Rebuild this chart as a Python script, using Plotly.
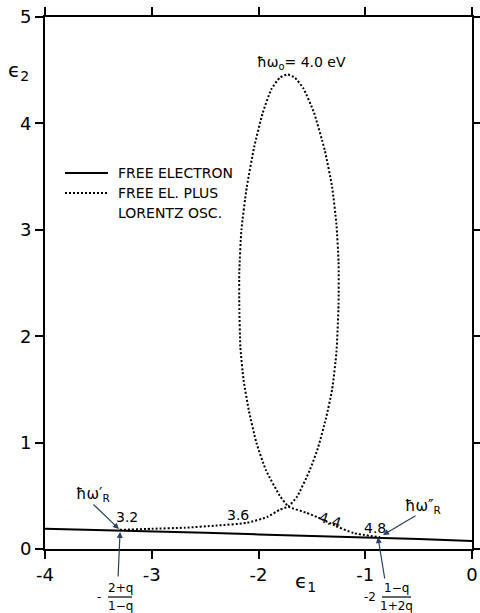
import plotly.graph_objects as go

# Free electron curve (eps1, eps2)
fe_e1 = [-4.0, -3.3, -2.5, -2.0, -1.0, -0.5, 0.0]
fe_e2 = [0.19, 0.175, 0.152, 0.137, 0.11, 0.095, 0.075]

# Free electron plus Lorentz oscillator curve
lo_e1 = [-3.30, -3.0, -2.69, -2.40, -2.11, -1.92, -1.80, -1.72,
         -1.64, -1.52, -1.44, -1.37, -1.31, -1.27, -1.25, -1.25, -1.27, -1.31, -1.38, -1.48,
         -1.58, -1.66, -1.73, -1.80, -1.88, -1.96, -2.04, -2.11, -2.16, -2.18, -2.18, -2.17,
         -2.14, -2.09, -2.02, -1.93, -1.80, -1.72,
         -1.55, -1.45, -1.26, -1.11, -0.86]
lo_e2 = [0.18, 0.19, 0.20, 0.22, 0.245, 0.30, 0.37, 0.40,
         0.49, 0.74, 0.96, 1.22, 1.50, 1.85, 2.3, 2.7, 3.05, 3.40, 3.75, 4.10,
         4.33, 4.43, 4.46, 4.43, 4.32, 4.10, 3.78, 3.40, 3.0, 2.6, 2.3, 1.9,
         1.59, 1.30, 1.00, 0.74, 0.50, 0.40,
         0.34, 0.30, 0.21, 0.15, 0.11]

# photon-energy labels along the curve (eV)
energy_labels = ["3.2", "3.6", "4.4", "4.8"]
energy_e1 = [-3.23, -2.19, -1.33, -0.91]
energy_e2 = [0.30, 0.32, 0.27, 0.20]
energy_angle = [0, 0, 18, 0]

x_ticks = [-4, -3, -2, -1, 0]
x_ticktext = ["-4", "-3", "-2", "-1", "0"]
y_ticks = [0, 1, 2, 3, 4, 5]

FONT = "DejaVu Sans"

fig = go.Figure()
fig.add_trace(go.Scatter(x=fe_e1, y=fe_e2, mode="lines",
                         line=dict(color="black", width=2), showlegend=False))
fig.add_trace(go.Scatter(x=lo_e1, y=lo_e2, mode="lines",
                         line=dict(color="black", width=2, dash="2px,2px", shape="spline", smoothing=0.5),
                         showlegend=False))

C = dict(xanchor="center", yanchor="middle")

ann = []
for t, x, y, a in zip(energy_labels, energy_e1, energy_e2, energy_angle):
    ann.append(dict(x=x, y=y, xref="x", yref="y", text=t, showarrow=False, textangle=a,
                    font=dict(family=FONT, size=14, color="black"), **C))

# resonance labels and arrows
ann.append(dict(x=-3.55, y=0.51, xref="x", yref="y", text="ħω′<sub>R</sub>", showarrow=False,
                font=dict(family=FONT, size=15, color="black"), **C))
ann.append(dict(x=-0.46, y=0.395, xref="x", yref="y", text="ħω″<sub>R</sub>", showarrow=False,
                font=dict(family=FONT, size=15, color="black"), **C))
ann.append(dict(x=-3.307, y=0.188, xref="x", yref="y", text="", showarrow=True,
                arrowhead=2, arrowsize=1, arrowwidth=1.2, ax=-27, ay=-26))
ann.append(dict(x=-0.834, y=0.132, xref="x", yref="y", text="", showarrow=True,
                arrowhead=2, arrowsize=1, arrowwidth=1.2, ax=34, ay=-20))
ann.append(dict(x=-3.297, y=0.16, xref="x", yref="y", text="", showarrow=True,
                arrowhead=2, arrowsize=1, arrowwidth=1.2, ax=-2, ay=46))
ann.append(dict(x=-0.881, y=0.113, xref="x", yref="y", text="", showarrow=True,
                arrowhead=2, arrowsize=1, arrowwidth=1.2, ax=7, ay=43))
ann.append(dict(x=-1.60, y=4.57, xref="x", yref="y", text="ħω<sub>o</sub>= 4.0 eV", showarrow=False,
                font=dict(family=FONT, size=14, color="black"), **C))

def px(xp):
    return (xp - 45) / 427.0

def py(yp):
    return (549 - yp) / 532.0

# axis titles
ann.append(dict(x=px(18), y=py(71), xref="paper", yref="paper", text="ϵ<sub>2</sub>", showarrow=False,
                font=dict(family=FONT, size=20, color="black"), **C))
ann.append(dict(x=px(305), y=py(582), xref="paper", yref="paper", text="ϵ<sub>1</sub>", showarrow=False,
                font=dict(family=FONT, size=20, color="black"), **C))

# fraction labels
ffont = dict(family=FONT, size=12, color="black")
ann.append(dict(x=px(99), y=py(597), xref="paper", yref="paper", text="-", showarrow=False, font=ffont, **C))
ann.append(dict(x=px(120), y=py(588), xref="paper", yref="paper", text="2+q", showarrow=False, font=ffont, **C))
ann.append(dict(x=px(120), y=py(606), xref="paper", yref="paper", text="1−q", showarrow=False, font=ffont, **C))
ann.append(dict(x=px(370), y=py(597), xref="paper", yref="paper", text="-2", showarrow=False, font=ffont, **C))
ann.append(dict(x=px(396), y=py(588), xref="paper", yref="paper", text="1−q", showarrow=False, font=ffont, **C))
ann.append(dict(x=px(396), y=py(606), xref="paper", yref="paper", text="1+2q", showarrow=False, font=ffont, **C))

# legend text
lfont = dict(family=FONT, size=14, color="black")
L = dict(xanchor="left", yanchor="middle")
ann.append(dict(x=px(116), y=py(173), xref="paper", yref="paper", text="FREE ELECTRON",
                showarrow=False, font=lfont, **L))
ann.append(dict(x=px(116), y=py(193), xref="paper", yref="paper", text="FREE EL. PLUS",
                showarrow=False, font=lfont, **L))
ann.append(dict(x=px(116), y=py(213), xref="paper", yref="paper", text="LORENTZ OSC.",
                showarrow=False, font=lfont, **L))

shapes = [
    dict(type="line", xref="paper", yref="paper", x0=px(65), x1=px(108), y0=py(173), y1=py(173),
         line=dict(color="black", width=2)),
    dict(type="line", xref="paper", yref="paper", x0=px(65), x1=px(108), y0=py(193), y1=py(193),
         line=dict(color="black", width=2, dash="2px,2px")),
    dict(type="line", xref="paper", yref="paper", x0=px(108), x1=px(132), y0=py(597), y1=py(597),
         line=dict(color="black", width=1.2)),
    dict(type="line", xref="paper", yref="paper", x0=px(382), x1=px(411), y0=py(597), y1=py(597),
         line=dict(color="black", width=1.2)),
]

axis_common = dict(showgrid=False, zeroline=False, showline=True, linecolor="black", linewidth=2,
                   ticks="outside", ticklen=8, tickwidth=1.5, tickcolor="black", mirror="ticks",
                   automargin=False,
                   tickfont=dict(family=FONT, size=18, color="black"))

fig.update_layout(
    width=480, height=613,
    margin=dict(l=45, r=8, t=17, b=64),
    paper_bgcolor="white", plot_bgcolor="white",
    xaxis=dict(range=[-4, 0], tickvals=x_ticks, ticktext=x_ticktext, **axis_common),
    yaxis=dict(range=[0, 5], tickvals=y_ticks, **axis_common),
    annotations=ann, shapes=shapes, showlegend=False,
)

fig.write_html("out.html")
